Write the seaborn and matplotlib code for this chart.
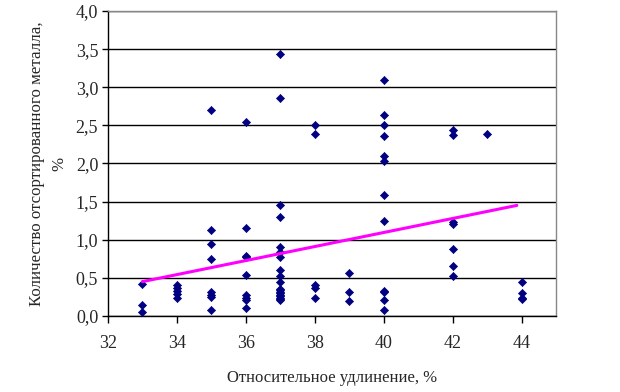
import numpy as np
import pandas as pd
import seaborn as sns
import matplotlib.pyplot as plt
from matplotlib.ticker import FuncFormatter

# elongation (%) and amount of sorted metal (%)
elong = [33, 33, 33,
         34, 34, 34, 34, 34,
         35, 35, 35, 35, 35, 35, 35, 35,
         36, 36, 36, 36, 36, 36, 36, 36, 36,
         37, 37, 37, 37, 37, 37, 37, 37, 37, 37,
         37, 37, 37, 37, 37, 37, 37, 37, 37,
         38, 38, 38, 38, 38,
         39, 39, 39,
         40, 40, 40, 40, 40, 40, 40, 40, 40, 40, 40, 40,
         42, 42, 42, 42, 42, 42, 42,
         43,
         44, 44, 44, 44]
metal = [0.42, 0.14, 0.05,
         0.41, 0.37, 0.33, 0.29, 0.24,
         2.70, 1.13, 0.95, 0.75, 0.31, 0.28, 0.25, 0.08,
         2.55, 1.16, 0.79, 0.77, 0.54, 0.27, 0.24, 0.21, 0.11,
         3.44, 2.86, 1.46, 1.30, 0.91, 0.84, 0.77, 0.60, 0.52, 0.44,
         0.36, 0.34, 0.32, 0.30, 0.28, 0.26, 0.24, 0.22, 0.21,
         2.51, 2.39, 0.40, 0.37, 0.24,
         0.56, 0.31, 0.19,
         3.10, 2.64, 2.51, 2.36, 2.10, 2.03, 1.59, 1.25, 0.33, 0.31, 0.21, 0.08,
         2.44, 2.37, 1.23, 1.21, 0.88, 0.66, 0.52,
         2.39,
         0.45, 0.30, 0.24, 0.22]

# trend line end points
trend_x = [33, 43.86]
trend_y = [0.45, 1.45]

df = pd.DataFrame({'x': elong, 'y': metal})
trend = pd.DataFrame({'x': trend_x, 'y': trend_y})

sns.set_style('white')
plt.rcParams['font.family'] = ['Liberation Serif', 'DejaVu Serif']

fig = plt.figure(figsize=(6.2, 3.92), dpi=100)
ax = fig.add_axes([0.174, 0.194, 0.723, 0.778])

ax.yaxis.grid(True, color='black', linewidth=1)
ax.set_axisbelow(True)

sns.scatterplot(data=df, x='x', y='y', marker='D', s=17, color='#000080',
                edgecolor='#000080', linewidth=0.5, ax=ax, zorder=3)
sns.lineplot(data=trend, x='x', y='y', color='#ff00ff', linewidth=2.2, ax=ax, zorder=4)

ax.set_xlim(32, 45)
ax.set_ylim(0, 4)
ax.set_xticks(np.arange(32, 45, 2))
ax.set_yticks(np.arange(0, 4.01, 0.5))
ax.yaxis.set_major_formatter(FuncFormatter(lambda v, p: f'{v:.1f}'.replace('.', ',')))

ax.tick_params(axis='x', direction='out', length=5, width=1, color='black',
               labelsize=13, pad=9)
ax.tick_params(axis='y', direction='out', length=4, width=1, color='black',
               labelsize=13, pad=3)
ax.xaxis.set_ticks_position('bottom')
ax.yaxis.set_ticks_position('left')

for s in ['left', 'bottom']:
    ax.spines[s].set_color('black')
    ax.spines[s].set_linewidth(1)
for s in ['top', 'right']:
    ax.spines[s].set_color('#888888')
    ax.spines[s].set_linewidth(1)

ax.set_xlabel('Относительное удлинение, %', fontsize=12, labelpad=13)
ax.set_ylabel('Количество отсортированного металла,\n%', fontsize=12.2,
              labelpad=6, linespacing=1.5)

fig.savefig('out.png', dpi=100)
